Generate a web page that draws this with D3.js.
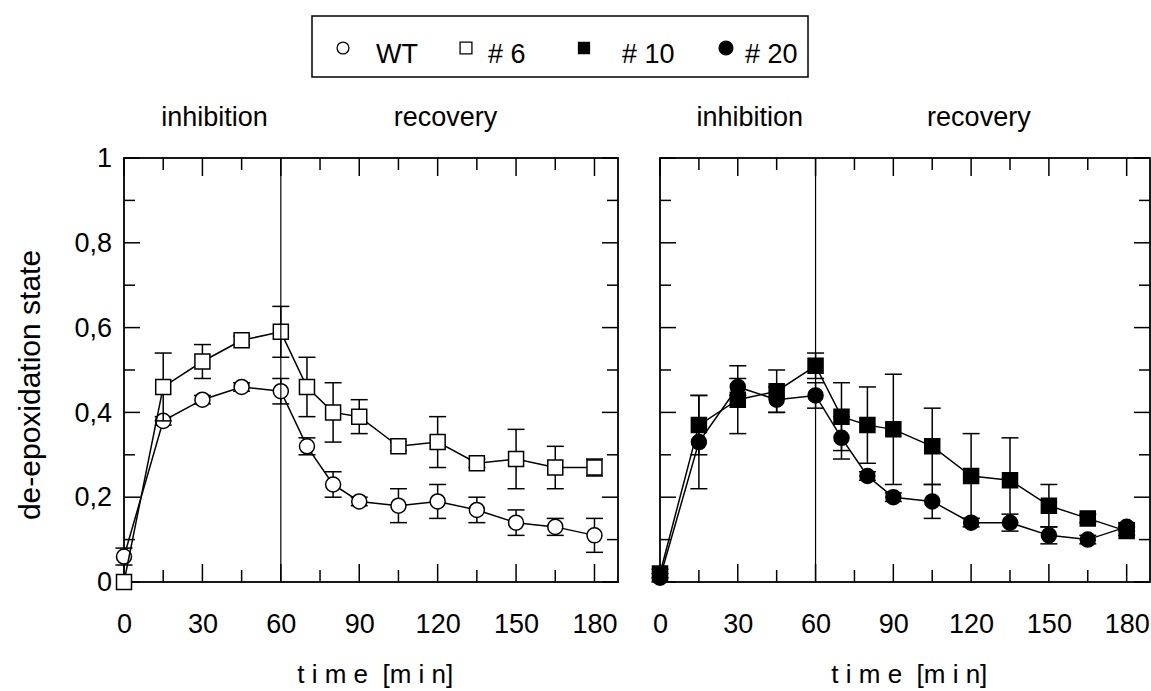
<!DOCTYPE html>
<html>
<head>
<meta charset="utf-8">
<script src="https://cdn.jsdelivr.net/npm/d3@7/dist/d3.min.js"></script>
<style>
  body { margin: 0; background: #fff; }
  text { font-family: "Liberation Sans", Arial, sans-serif; fill: #000; }
</style>
</head>
<body>
<svg id="chart" width="1151" height="691"></svg>
<script>
// time points [min]
var times = [0, 15, 30, 45, 60, 70, 80, 90, 105, 120, 135, 150, 165, 180];

// de-epoxidation state, mean and error
var wt     = [0.06, 0.38, 0.43, 0.46, 0.45, 0.32, 0.23, 0.19, 0.18, 0.19, 0.17, 0.14, 0.13, 0.11];
var wtErr  = [0.02, 0.01, 0.01, 0.01, 0.03, 0.02, 0.03, 0.01, 0.04, 0.04, 0.03, 0.03, 0.02, 0.04];
var l6     = [0.00, 0.46, 0.52, 0.57, 0.59, 0.46, 0.40, 0.39, 0.32, 0.33, 0.28, 0.29, 0.27, 0.27];
var l6Err  = [0.00, 0.08, 0.04, 0.01, 0.06, 0.07, 0.07, 0.04, 0.01, 0.06, 0.01, 0.07, 0.05, 0.02];
var l10    = [0.02, 0.37, 0.43, 0.45, 0.51, 0.39, 0.37, 0.36, 0.32, 0.25, 0.24, 0.18, 0.15, 0.12];
var l10Err = [0.01, 0.07, 0.08, 0.05, 0.03, 0.08, 0.09, 0.13, 0.09, 0.10, 0.10, 0.05, 0.01, 0.01];
var l20    = [0.01, 0.33, 0.46, 0.43, 0.44, 0.34, 0.25, 0.20, 0.19, 0.14, 0.14, 0.11, 0.10, 0.13];
var l20Err = [0.01, 0.11, 0.02, 0.03, 0.03, 0.05, 0.01, 0.01, 0.04, 0.01, 0.02, 0.02, 0.01, 0.01];

var seriesNames = ["WT", "# 6", "# 10", "# 20"];
var xTicks = [0, 30, 60, 90, 120, 150, 180];
var yTicks = [0, 0.2, 0.4, 0.6, 0.8, 1];

var svg = d3.select("#chart");
var font = '"Liberation Sans", Arial, sans-serif';

var y = d3.scaleLinear().domain([0, 1]).range([582, 158]);
var yFmt = function(d) { return d === 0 || d === 1 ? String(d) : d3.format(".1f")(d).replace(".", ","); };

var series = [
  {name: "WT",   values: wt,  err: wtErr,  shape: "circle", fill: "#fff"},
  {name: "# 6",  values: l6,  err: l6Err,  shape: "square", fill: "#fff"},
  {name: "# 10", values: l10, err: l10Err, shape: "square", fill: "#000"},
  {name: "# 20", values: l20, err: l20Err, shape: "circle", fill: "#000"}
];

var panels = [
  {x0: 124, x1: 618, series: [series[0], series[1]], yLabels: true},
  {x0: 660, x1: 1150, series: [series[2], series[3]], yLabels: false}
];

function marker(sel, shape, size) {
  var t = shape === "circle" ? d3.symbolCircle : d3.symbolSquare;
  return sel.attr("d", d3.symbol(t, size));
}

panels.forEach(function(p) {
  var x = d3.scaleLinear().domain([0, 189]).range([p.x0, p.x1]);
  var g = svg.append("g");

  // tick marks pointing inward on all four sides
  var minorX = d3.range(0, 181, 15), minorY = d3.range(0, 1.001, 0.1);
  minorX.forEach(function(t) {
    var len = t % 30 === 0 ? 18 : 12;
    g.append("line").attr("x1", x(t)).attr("x2", x(t)).attr("y1", y(0)).attr("y2", y(0) - len).attr("stroke", "#000").attr("stroke-width", 1.5);
    g.append("line").attr("x1", x(t)).attr("x2", x(t)).attr("y1", y(1)).attr("y2", y(1) + len).attr("stroke", "#000").attr("stroke-width", 1.5);
  });
  minorY.forEach(function(v, i) {
    var len = i % 2 === 0 ? 16 : 11;
    g.append("line").attr("x1", p.x0).attr("x2", p.x0 + len).attr("y1", y(v)).attr("y2", y(v)).attr("stroke", "#000").attr("stroke-width", 1.5);
    g.append("line").attr("x1", p.x1).attr("x2", p.x1 - len).attr("y1", y(v)).attr("y2", y(v)).attr("stroke", "#000").attr("stroke-width", 1.5);
  });

  g.append("rect").attr("x", p.x0).attr("y", y(1)).attr("width", p.x1 - p.x0).attr("height", y(0) - y(1))
    .attr("fill", "none").attr("stroke", "#000").attr("stroke-width", 1.8);

  // axis labels
  var xa = g.append("g").attr("transform", "translate(0," + y(0) + ")")
    .call(d3.axisBottom(x).tickValues(xTicks).tickSize(0).tickPadding(32));
  xa.select(".domain").remove();
  xa.selectAll("text").attr("font-size", 27).attr("font-family", font);

  if (p.yLabels) {
    var ya = g.append("g").attr("transform", "translate(" + p.x0 + ",0)")
      .call(d3.axisLeft(y).tickValues(yTicks).tickSize(0).tickPadding(12).tickFormat(yFmt));
    ya.select(".domain").remove();
    ya.selectAll("text").attr("font-size", 27).attr("font-family", font);
  }

  g.append("text").attr("x", x(90) + 16).attr("y", 683).attr("text-anchor", "middle")
    .attr("font-size", 26).attr("xml:space", "preserve").text("t i m e  [m i n]");
  g.append("text").attr("x", x(34.6)).attr("y", 126).attr("text-anchor", "middle").attr("font-size", 27).text("inhibition");
  g.append("text").attr("x", x(123)).attr("y", 126).attr("text-anchor", "middle").attr("font-size", 27).text("recovery");

  // data series
  p.series.forEach(function(s) {
    var pts = times.map(function(t, i) { return {t: t, v: s.values[i], e: s.err[i]}; });
    var sg = g.append("g");
    pts.forEach(function(d) {
      if (d.e <= 0) return;
      var cx = x(d.t);
      sg.append("line").attr("x1", cx).attr("x2", cx).attr("y1", y(d.v - d.e)).attr("y2", y(d.v + d.e)).attr("stroke", "#000").attr("stroke-width", 1.5);
      [d.v - d.e, d.v + d.e].forEach(function(v) {
        sg.append("line").attr("x1", cx - 8.5).attr("x2", cx + 8.5).attr("y1", y(v)).attr("y2", y(v)).attr("stroke", "#000").attr("stroke-width", 1.5);
      });
    });
    sg.append("path").datum(pts)
      .attr("d", d3.line().x(function(d) { return x(d.t); }).y(function(d) { return y(d.v); }))
      .attr("fill", "none").attr("stroke", "#000").attr("stroke-width", 1.5);
    sg.selectAll(".m").data(pts).enter().append("path")
      .call(marker, s.shape, s.shape === "circle" ? 177 : 225)
      .attr("transform", function(d) { return "translate(" + x(d.t) + "," + y(d.v) + ")"; })
      .attr("fill", s.fill).attr("stroke", "#000").attr("stroke-width", 1.5);
  });

  // separator between inhibition and recovery
  g.append("line").attr("x1", x(60)).attr("x2", x(60)).attr("y1", y(1)).attr("y2", y(0)).attr("stroke", "#000").attr("stroke-width", 1.2);
});

// y axis title
svg.append("text").attr("transform", "translate(40,385) rotate(-90)").attr("text-anchor", "middle")
  .attr("font-size", 30).text("de-epoxidation state");

// legend
svg.append("rect").attr("x", 312).attr("y", 16).attr("width", 496).attr("height", 61)
  .attr("fill", "#fff").attr("stroke", "#000").attr("stroke-width", 1.5);
var legX = [343, 466, 584, 726], legTx = [376, 488, 622, 745];
var legSize = [110, 140, 120, 150];
seriesNames.forEach(function(n, i) {
  var s = series[i];
  svg.append("path").call(marker, s.shape, legSize[i])
    .attr("transform", "translate(" + legX[i] + ",48)")
    .attr("fill", s.fill).attr("stroke", "#000").attr("stroke-width", 1.3);
  svg.append("text").attr("x", legTx[i]).attr("y", 63).attr("font-size", 27).text(n);
});
</script>
</body>
</html>
